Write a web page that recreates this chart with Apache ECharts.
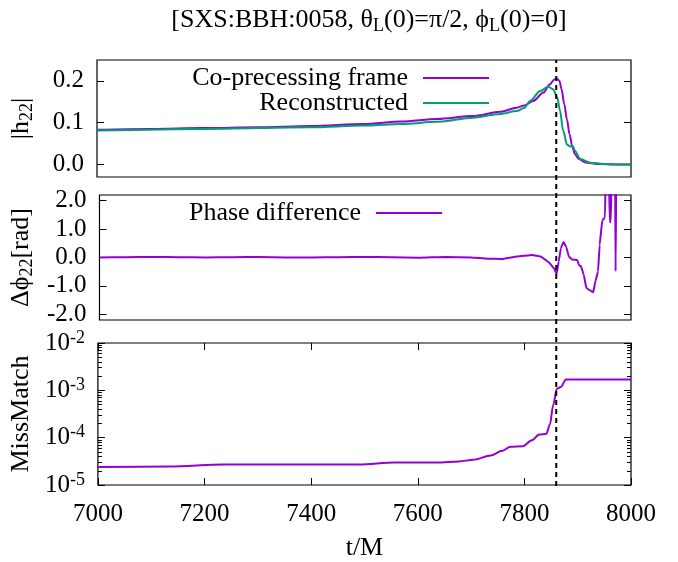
<!DOCTYPE html>
<html>
<head>
<meta charset="utf-8">
<script src="https://cdn.jsdelivr.net/npm/echarts@6/dist/echarts.min.js"></script>
<style>html,body{margin:0;padding:0;background:#fff}#c{width:678px;height:562px}</style>
</head>
<body>
<div id="c"></div>
<script>
// ---- data ----
const xTicks = [7000, 7200, 7400, 7600, 7800, 8000];
const ampTicks = [0.0, 0.1, 0.2];
const phaseTicks = [-2, -1, 0, 1, 2];
const mmTicks = [1e-5, 1e-4, 1e-3, 1e-2];
const mergerTime = 7860;

const tAmpCo = [7000, 7100, 7200, 7300, 7400, 7500, 7570, 7637, 7704, 7755, 7786, 7800, 7817, 7836, 7848, 7856, 7861, 7866, 7870, 7875, 7880, 7885, 7890, 7895, 7902, 7915, 7940, 7970, 8000];
const ampCo  = [0.083, 0.085, 0.087, 0.089, 0.092, 0.097, 0.103, 0.109, 0.116, 0.126, 0.136, 0.141, 0.152, 0.172, 0.192, 0.203, 0.206, 0.200, 0.180, 0.145, 0.108, 0.072, 0.043, 0.025, 0.013, 0.005, 0.001, 0.0, 0.0];

const tAmpRec = [7000, 7200, 7400, 7500, 7570, 7637, 7704, 7755, 7786, 7800, 7811, 7830, 7845, 7854, 7862, 7867, 7873, 7880, 7886, 7891, 7895, 7905, 7924, 7955, 7980, 8000];
const ampRec  = [0.081, 0.085, 0.089, 0.093, 0.097, 0.102, 0.112, 0.121, 0.128, 0.135, 0.152, 0.176, 0.186, 0.180, 0.160, 0.129, 0.081, 0.048, 0.043, 0.044, 0.033, 0.013, 0.004, 0.001, 0.0, 0.0];

const tPhase = [7000, 7050, 7100, 7150, 7200, 7250, 7300, 7350, 7400, 7450, 7500, 7550, 7600, 7650, 7700, 7730, 7757, 7786, 7814, 7830, 7845, 7855, 7860, 7864, 7868, 7873, 7878, 7883, 7889, 7899, 7902, 7906, 7911, 7916, 7923, 7929, 7933, 7938, 7941, 7946, 7949, 7951, 7953, 7958, 7960, 7962, 7964, 7970, 7971, 7972.5, 8000];
const phaseDiff = [0.0, 0.01, 0.02, 0.01, 0.0, 0.01, 0.02, 0.0, 0.0, 0.01, 0.02, 0.01, -0.01, 0.02, 0.0, -0.04, -0.05, 0.035, 0.09, 0.035, -0.16, -0.38, -0.58, -0.14, 0.33, 0.55, 0.38, 0.035, -0.07, -0.09, -0.26, -0.31, -0.6, -1.07, -1.16, -1.22, -0.84, -0.49, 0.44, 1.31, 1.37, 1.4, 3.5, 3.5, 1.25, 1.25, 3.5, 3.5, -0.48, 3.5, 3.5];

const tMM = [7000, 7135, 7236, 7370, 7490, 7557, 7637, 7677, 7704, 7737, 7757, 7774, 7797, 7814, 7828, 7841, 7848, 7854, 7861, 7868, 7878, 8000];
const missMatch = [2.4e-5, 2.45e-5, 2.7e-5, 2.7e-5, 2.7e-5, 3.0e-5, 3.0e-5, 3.15e-5, 3.4e-5, 4.2e-5, 5.2e-5, 6.4e-5, 6.6e-5, 8.8e-5, 1.17e-4, 1.2e-4, 1.9e-4, 4.9e-4, 1.08e-3, 1.17e-3, 1.69e-3, 1.69e-3];

// ---- build ----
const FONT = 'Liberation Serif';
const FS = 25;
const FSN = 26;
const zip = (a, b) => a.map((v, i) => [v, b[i]]);
const mmMinor = [];
mmTicks.slice(0, -1).forEach(d => { for (let k = 2; k <= 9; k++) mmMinor.push(+(k * d).toPrecision(3)); });

const L = 97, R = 47;
const grids = [
  {left: L, right: R, top: 60, height: 117},
  {left: L, right: R, top: 195, height: 125},
  {left: L, right: R, top: 343, height: 143},
  {left: L, right: R, top: 60, height: 426}
].map((g, i) => Object.assign(g, {show: i < 3, borderColor: '#000', borderWidth: 1.2, backgroundColor: 'transparent'}));

const labelStyle = {fontFamily: FONT, fontSize: FS, color: '#000'};
const nameStyle = {fontFamily: FONT, fontSize: FSN, color: '#000'};
const tickStyle = {lineStyle: {color: '#000', width: 1}};
const rich = {
  sub: {fontFamily: FONT, fontSize: 18, color: '#000', verticalAlign: 'bottom', padding: [12, 0, 0, 0]},
  sup: {fontFamily: FONT, fontSize: 18, color: '#000', verticalAlign: 'top', padding: [0, 0, 10, 0]}
};

function xAx(gi, extra) {
  return Object.assign({
    type: 'value', gridIndex: gi, min: 7000, max: 8000, interval: 200,
    axisLine: {show: false}, axisTick: {show: false}, axisLabel: {show: false}, splitLine: {show: false}
  }, extra || {});
}
function yAx(gi, pos, min, max, ticks, showLabel, fmt, extra) {
  return Object.assign({
    type: 'value', gridIndex: gi, position: pos, min: min, max: max,
    axisLine: {show: false}, splitLine: {show: false},
    axisTick: Object.assign({show: true, inside: true, length: 7, customValues: ticks}, tickStyle),
    axisLabel: {show: showLabel, customValues: ticks, margin: 13, formatter: fmt, fontFamily: FONT, fontSize: FS, color: '#000', rich: rich}
  }, extra || {});
}
const f1 = v => v.toFixed(1);
const fLog = v => '10{sup|' + Math.round(Math.log10(v)) + '}';
const nameCommon = {nameLocation: 'middle', nameGap: 61, nameRotate: 90, nameTextStyle: Object.assign({rich: rich}, nameStyle)};

const option = {
  animation: false,
  backgroundColor: '#fff',
  title: {
    text: '[SXS:BBH:0058, θ{sub|L}(0)=π/2, ϕ{sub|L}(0)=0]',
    left: 364, top: 0, textAlign: 'center',
    textStyle: Object.assign({fontWeight: 'normal', rich: rich}, nameStyle)
  },
  legend: [
    {data: ['Co-precessing frame'], right: 189, top: 65},
    {data: ['Reconstructed'], right: 189, top: 90},
    {data: ['Phase difference'], right: 236, top: 200}
  ].map(l => Object.assign(l, {
    orient: 'horizontal', align: 'right', icon: 'rect', itemWidth: 66, itemHeight: 2, padding: 0,
    selectedMode: false, textStyle: Object.assign({padding: [0, 10, 0, 0], lineHeight: 26}, nameStyle)
  })),
  grid: grids,
  xAxis: [
    xAx(0), xAx(1),
    xAx(2, {
      axisTick: Object.assign({show: true, inside: true, length: 7}, tickStyle),
      axisLabel: {show: true, margin: 17, fontFamily: FONT, fontSize: FS, color: '#000', customValues: xTicks, formatter: v => String(v)},
      name: 't/M', nameLocation: 'middle', nameGap: 50, nameTextStyle: nameStyle
    }),
    xAx(2, {position: 'top', axisTick: Object.assign({show: true, inside: true, length: 7}, tickStyle)}),
    xAx(3, {show: false})
  ],
  yAxis: [
    yAx(0, 'left', -0.03, 0.25, ampTicks, true, f1, Object.assign({name: '|h{sub|22}|'}, nameCommon)),
    yAx(0, 'right', -0.03, 0.25, ampTicks, false, f1),
    yAx(1, 'left', -2.2, 2.2, phaseTicks, true, f1, Object.assign({name: 'Δϕ{sub|22}[rad]'}, nameCommon)),
    yAx(1, 'right', -2.2, 2.2, phaseTicks, false, f1),
    yAx(2, 'left', 1e-5, 1e-2, mmTicks, true, fLog, Object.assign({type: 'log', logBase: 10, name: 'MissMatch'}, nameCommon)),
    yAx(2, 'left', 1e-5, 1e-2, mmMinor, false, fLog, {type: 'log', logBase: 10, axisTick: Object.assign({show: true, inside: true, length: 4, customValues: mmMinor}, tickStyle)}),
    yAx(2, 'right', 1e-5, 1e-2, mmTicks, false, fLog, {type: 'log', logBase: 10}),
    yAx(2, 'right', 1e-5, 1e-2, mmMinor, false, fLog, {type: 'log', logBase: 10, axisTick: Object.assign({show: true, inside: true, length: 4, customValues: mmMinor}, tickStyle)}),
    {type: 'value', gridIndex: 3, min: 0, max: 1, show: false}
  ],
  series: [
    {name: 'Co-precessing frame', type: 'line', xAxisIndex: 0, yAxisIndex: 0, data: zip(tAmpCo, ampCo), color: '#9400D3'},
    {name: 'Reconstructed', type: 'line', xAxisIndex: 0, yAxisIndex: 0, data: zip(tAmpRec, ampRec), color: '#009E73'},
    {name: 'Phase difference', type: 'line', xAxisIndex: 1, yAxisIndex: 2, data: zip(tPhase, phaseDiff), color: '#9400D3', smooth: 0.1},
    {name: 'MissMatch', type: 'line', xAxisIndex: 2, yAxisIndex: 4, data: zip(tMM, missMatch), color: '#9400D3'},
    {name: 'merger', type: 'line', xAxisIndex: 4, yAxisIndex: 8, data: [[mergerTime, 0], [mergerTime, 1]], color: '#000',
     lineStyle: {type: [5, 4], width: 2, color: '#000'}, smooth: false, z: 5}
  ].map(s => Object.assign({showSymbol: false, symbol: 'none', smooth: 0.3, smoothMonotone: 'x', lineStyle: {width: 2}, clip: true}, s))
};

const chart = echarts.init(document.getElementById('c'), null, {renderer: 'canvas'});
chart.setOption(option);
</script>
</body>
</html>
